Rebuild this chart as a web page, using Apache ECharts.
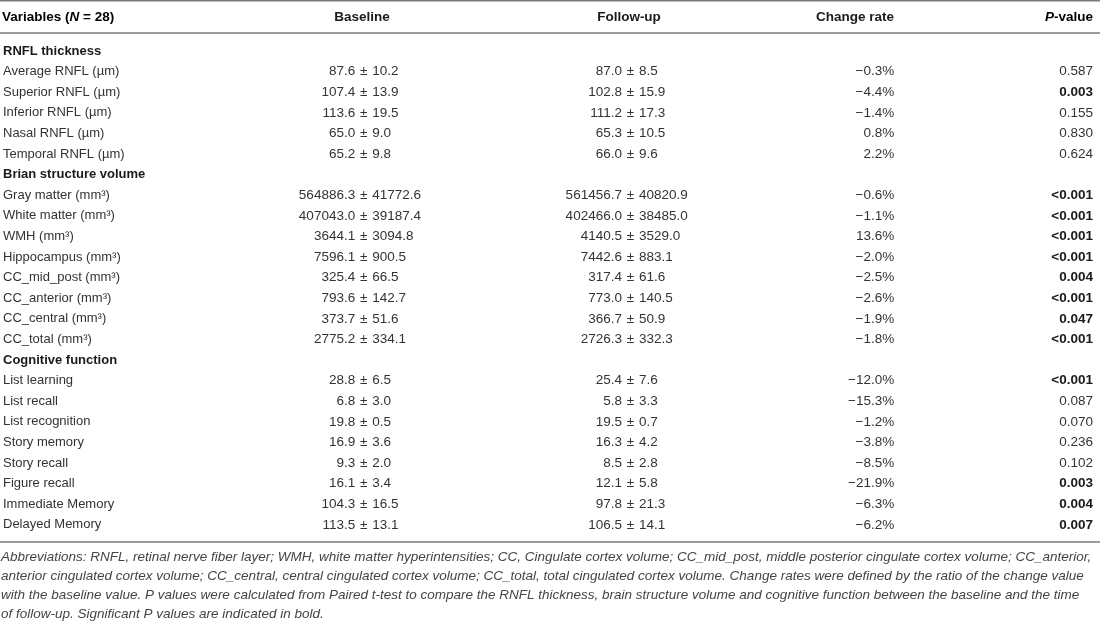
<!DOCTYPE html>
<html>
<head>
<meta charset="utf-8">
<title>RNFL, brain volume and cognition</title>
<script src="https://cdn.jsdelivr.net/npm/echarts@6/dist/echarts.min.js"></script>
<style>
  html, body { margin: 0; padding: 0; background: #fff; }
  #main { width: 1100px; height: 623px; }
</style>
</head>
<body>
<div id="main"></div>
<script>
// table rows (section headings have null values)
var rowNames = [
  'RNFL thickness', 'Average RNFL (\u00b5m)', 'Superior RNFL (\u00b5m)', 'Inferior RNFL (\u00b5m)',
  'Nasal RNFL (\u00b5m)', 'Temporal RNFL (\u00b5m)',
  'Brian structure volume', 'Gray matter (mm\u00b3)', 'White matter (mm\u00b3)', 'WMH (mm\u00b3)',
  'Hippocampus (mm\u00b3)', 'CC_mid_post (mm\u00b3)', 'CC_anterior (mm\u00b3)', 'CC_central (mm\u00b3)',
  'CC_total (mm\u00b3)',
  'Cognitive function', 'List learning', 'List recall', 'List recognition', 'Story memory',
  'Story recall', 'Figure recall', 'Immediate Memory', 'Delayed Memory'
];
var baseMean = [null, 87.6, 107.4, 113.6, 65.0, 65.2,
  null, 564886.3, 407043.0, 3644.1, 7596.1, 325.4, 793.6, 373.7, 2775.2,
  null, 28.8, 6.8, 19.8, 16.9, 9.3, 16.1, 104.3, 113.5];
var baseSD = [null, 10.2, 13.9, 19.5, 9.0, 9.8,
  null, 41772.6, 39187.4, 3094.8, 900.5, 66.5, 142.7, 51.6, 334.1,
  null, 6.5, 3.0, 0.5, 3.6, 2.0, 3.4, 16.5, 13.1];
var followMean = [null, 87.0, 102.8, 111.2, 65.3, 66.0,
  null, 561456.7, 402466.0, 4140.5, 7442.6, 317.4, 773.0, 366.7, 2726.3,
  null, 25.4, 5.8, 19.5, 16.3, 8.5, 12.1, 97.8, 106.5];
var followSD = [null, 8.5, 15.9, 17.3, 10.5, 9.6,
  null, 40820.9, 38485.0, 3529.0, 883.1, 61.6, 140.5, 50.9, 332.3,
  null, 7.6, 3.3, 0.7, 4.2, 2.8, 5.8, 21.3, 14.1];
var changeRate = [null, -0.3, -4.4, -1.4, 0.8, 2.2,
  null, -0.6, -1.1, 13.6, -2.0, -2.5, -2.6, -1.9, -1.8,
  null, -12.0, -15.3, -1.2, -3.8, -8.5, -21.9, -6.3, -6.2];
var pValue = [null, '0.587', '0.003', '0.155', '0.830', '0.624',
  null, '<0.001', '<0.001', '<0.001', '<0.001', '0.004', '<0.001', '0.047', '<0.001',
  null, '<0.001', '0.087', '0.070', '0.236', '0.102', '0.003', '0.004', '0.007'];

var footnote = [
  'Abbreviations: RNFL, retinal nerve fiber layer; WMH, white matter hyperintensities; CC, Cingulate cortex volume; CC_mid_post, middle posterior cingulate cortex volume; CC_anterior,',
  'anterior cingulated cortex volume; CC_central, central cingulated cortex volume; CC_total, total cingulated cortex volume. Change rates were defined by the ratio of the change value',
  'with the baseline value. P values were calculated from Paired t-test to compare the RNFL thickness, brain structure volume and cognitive function between the baseline and the time',
  'of follow-up. Significant P values are indicated in bold.'
];

// column anchors on the x scale (0..1100)
var colBase = 363, colFollow = 630, colChange = 894, colP = 1093;
var FONT = '"Liberation Sans", Arial, sans-serif';
var NUM = '13.5px ' + FONT;
var TXT = '#333', DARK = '#1a1a1a', RULE = '#7a7a7a';

function fmtRate(v) {
  return (v < 0 ? '\u2212' + Math.abs(v).toFixed(1) : v.toFixed(1)) + '%';
}
function isSig(p) {
  return p.charAt(0) === '<' || parseFloat(p) < 0.05;
}

var cells = [];
rowNames.forEach(function (n, i) {
  if (baseMean[i] !== null) cells.push([0, i]);
});

var chart = echarts.init(document.getElementById('main'));

// mean ± sd, lined up on the ± sign
function pmText(x, y, m, s) {
  return [
    { type: 'text', style: { x: x - 8.5, y: y, text: m.toFixed(1), align: 'right', verticalAlign: 'middle', font: NUM, fill: TXT } },
    { type: 'text', style: { x: x, y: y, text: '\u00b1', align: 'center', verticalAlign: 'middle', font: NUM, fill: TXT } },
    { type: 'text', style: { x: x + 8.5, y: y, text: s.toFixed(1), align: 'left', verticalAlign: 'middle', font: NUM, fill: TXT } }
  ];
}

var headRich = {
  b: { fontFamily: FONT, fontSize: 13.5, fontWeight: 'bold', color: DARK },
  i: { fontFamily: FONT, fontSize: 13.5, fontWeight: 'bold', fontStyle: 'italic', color: DARK }
};

var option = {
  animation: false,
  backgroundColor: '#fff',
  grid: { left: 0, right: 0, top: 40.7, bottom: 87.9 },
  xAxis: { type: 'value', min: 0, max: 1100, show: false },
  yAxis: {
    type: 'category',
    inverse: true,
    data: rowNames,
    axisLine: { show: false },
    axisTick: { show: false },
    splitLine: { show: false },
    axisLabel: {
      align: 'left',
      margin: -2,
      formatter: function (v, i) {
        return baseMean[i] === null ? '{sec|' + v + '}' : '{n|' + v + '}';
      },
      rich: {
        sec: { fontFamily: FONT, fontSize: 13, fontWeight: 'bold', color: DARK },
        n: { fontFamily: FONT, fontSize: 13, color: TXT }
      }
    }
  },
  series: [{
    type: 'custom',
    data: cells,
    encode: { x: 0, y: 1 },
    renderItem: function (params, api) {
      var i = api.value(1);
      var y = api.coord([0, i])[1];
      var kids = [];
      kids = kids.concat(pmText(api.coord([colBase, i])[0], y, baseMean[i], baseSD[i]));
      kids = kids.concat(pmText(api.coord([colFollow, i])[0], y, followMean[i], followSD[i]));
      kids.push({ type: 'text', style: { x: api.coord([colChange, i])[0], y: y, text: fmtRate(changeRate[i]), align: 'right', verticalAlign: 'middle', font: NUM, fill: TXT } });
      var sig = isSig(pValue[i]);
      kids.push({ type: 'text', style: { x: api.coord([colP, i])[0], y: y, text: pValue[i], align: 'right', verticalAlign: 'middle', font: (sig ? 'bold ' : '') + NUM, fill: sig ? DARK : TXT } });
      return { type: 'group', children: kids };
    }
  }],
  graphic: [
    { type: 'line', shape: { x1: 0, y1: 0.8, x2: 1100, y2: 0.8 }, style: { stroke: RULE, lineWidth: 1.6 } },
    { type: 'line', shape: { x1: 0, y1: 33, x2: 1100, y2: 33 }, style: { stroke: RULE, lineWidth: 1.4 } },
    { type: 'line', shape: { x1: 0, y1: 542, x2: 1100, y2: 542 }, style: { stroke: RULE, lineWidth: 1.4 } },
    { type: 'text', x: 2, y: 17, style: { text: '{b|Variables (}{i|N}{b| = 28)}', align: 'left', verticalAlign: 'middle', rich: headRich } },
    { type: 'text', x: 362, y: 17, style: { text: 'Baseline', align: 'center', verticalAlign: 'middle', font: 'bold 13.5px ' + FONT, fill: DARK } },
    { type: 'text', x: 629, y: 17, style: { text: 'Follow-up', align: 'center', verticalAlign: 'middle', font: 'bold 13.5px ' + FONT, fill: DARK } },
    { type: 'text', x: 855, y: 17, style: { text: 'Change rate', align: 'center', verticalAlign: 'middle', font: 'bold 13.5px ' + FONT, fill: DARK } },
    { type: 'text', x: 1093, y: 17, style: { text: '{i|P}{b|-value}', align: 'right', verticalAlign: 'middle', rich: headRich } }
  ].concat(footnote.map(function (t, k) {
    return { type: 'text', x: 1, y: 557 + k * 19, style: { text: t, verticalAlign: 'middle', font: 'italic 13.5px ' + FONT, fill: '#444' } };
  }))
};

chart.setOption(option);
</script>
</body>
</html>
